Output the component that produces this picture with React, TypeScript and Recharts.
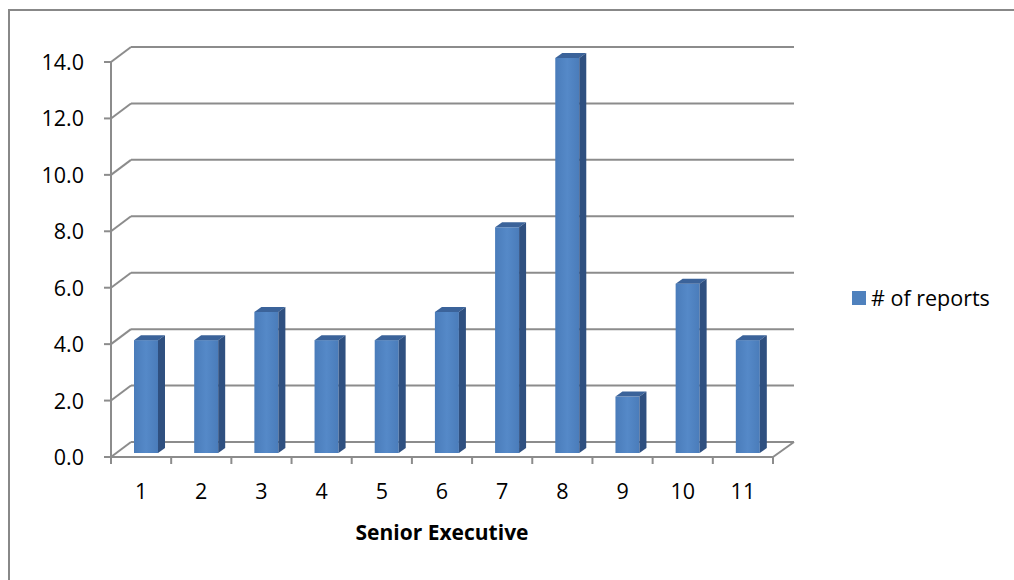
import React from 'react';
import { BarChart, Bar, XAxis, YAxis, CartesianGrid, Legend } from 'recharts';

const categories = ['1', '2', '3', '4', '5', '6', '7', '8', '9', '10', '11'];
const reports = [4, 4, 5, 4, 4, 5, 8, 14, 2, 6, 4];
const yTicks = [0, 2, 4, 6, 8, 10, 12, 14];
const seriesName = '# of reports';
const xTitle = 'Senior Executive';

const data = categories.map((c, i) => ({ name: c, value: reports[i] }));

const FONT = '"Open Sans", Lato, sans-serif';
const GRID = '#8c8c8c';
const DEPTH_X = 20;
const DEPTH_Y = 15;

const GridLine = (props: any) => {
  const { x1, x2, y1 } = props;
  const bx = x1 + DEPTH_X;
  const by = y1 - DEPTH_Y;
  const isFloor = Math.abs(y1 - 457) < 2;
  return (
    <g>
      <line x1={x1} y1={y1} x2={bx} y2={by} stroke={GRID} strokeWidth={2} />
      <line x1={bx} y1={by} x2={x2 + 21} y2={by} stroke={GRID} strokeWidth={2} />
      {isFloor ? <line x1={x2} y1={y1} x2={x2 + 21} y2={by} stroke={GRID} strokeWidth={2} /> : null}
    </g>
  );
};

const Bar3D = (props: any) => {
  const { x, y, width, height } = props;
  if (height == null || width == null) return null;
  const fx = x + 5;
  const fy = y - 4;
  const dx = 7;
  const dy = 5;
  return (
    <g>
      <rect x={fx} y={fy} width={width} height={height} fill="url(#barFront)" />
      <polygon
        points={`${fx},${fy} ${fx + dx},${fy - dy} ${fx + width + dx},${fy - dy} ${fx + width},${fy}`}
        fill="#3b639a"
      />
      <polygon
        points={`${fx + width},${fy} ${fx + width + dx},${fy - dy} ${fx + width + dx},${fy + height - dy} ${fx + width},${fy + height}`}
        fill="#2f5080"
      />
    </g>
  );
};

const YTick = (props: any) => {
  const { y, payload } = props;
  return (
    <text x={84} y={y + 8} textAnchor="end" fontFamily={FONT} fontSize={21.5} fill="#000">
      {Number(payload.value).toFixed(1)}
    </text>
  );
};

const XTick = (props: any) => {
  const { x, payload, index } = props;
  const half = payload.offset || 30.09;
  const last = index === categories.length - 1;
  return (
    <g>
      <line x1={x - half} y1={457} x2={x - half} y2={464} stroke={GRID} strokeWidth={2} />
      {last ? <line x1={x + half} y1={457} x2={x + half} y2={464} stroke={GRID} strokeWidth={2} /> : null}
      <text x={x} y={499} textAnchor="middle" fontFamily={FONT} fontSize={21.5} fill="#000">
        {payload.value}
      </text>
    </g>
  );
};

const LegendContent = () => (
  <div style={{ display: 'flex', alignItems: 'center', fontFamily: FONT, fontSize: 21.5, color: '#000', whiteSpace: 'nowrap', lineHeight: '24px' }}>
    <div style={{ width: 14, height: 14, background: '#4f81bd', marginRight: 5 }} />
    <span>{seriesName}</span>
  </div>
);

export default function App() {
  return (
    <div style={{ position: 'fixed', left: 0, top: 0, width: 1014, height: 580, background: '#fff', overflow: 'hidden' }}>
      <div
        style={{
          position: 'absolute',
          left: 8,
          top: 9,
          width: 1100,
          height: 700,
          borderLeft: '2px solid #888',
          borderTop: '2px solid #888',
        }}
      />
      <div style={{ position: 'absolute', left: 0, top: 0 }}>
        <BarChart
          width={1014}
          height={580}
          data={data}
          margin={{ top: 62, right: 241, bottom: 40, left: 51 }}
          barSize={24}
        >
          <defs>
            <linearGradient id="barFront" x1="0" y1="0" x2="1" y2="0">
              <stop offset="0%" stopColor="#4a7cba" />
              <stop offset="50%" stopColor="#5589c8" />
              <stop offset="100%" stopColor="#4a7cba" />
            </linearGradient>
          </defs>
          <CartesianGrid vertical={false} horizontal={GridLine as any} />
          <XAxis
            dataKey="name"
            height={83}
            axisLine={{ stroke: GRID, strokeWidth: 2 }}
            tickLine={false}
            tick={<XTick />}
            interval={0}
            label={{ value: xTitle, position: 'insideBottom', offset: 0, fontFamily: FONT, fontSize: 21, fontWeight: 700, fill: '#000' }}
          />
          <YAxis
            width={60}
            domain={[0, 14]}
            ticks={yTicks}
            axisLine={{ stroke: GRID, strokeWidth: 2 }}
            tickLine={{ stroke: GRID, strokeWidth: 2 }}
            tickSize={7}
            tick={<YTick />}
          />
          <Legend
            layout="horizontal"
            verticalAlign="middle"
            align="center"
            wrapperStyle={{ left: 852, top: 286, width: 160 }}
            content={<LegendContent />}
          />
          <Bar dataKey="value" name={seriesName} fill="#4f81bd" shape={<Bar3D />} isAnimationActive={false} />
        </BarChart>
      </div>
    </div>
  );
}
